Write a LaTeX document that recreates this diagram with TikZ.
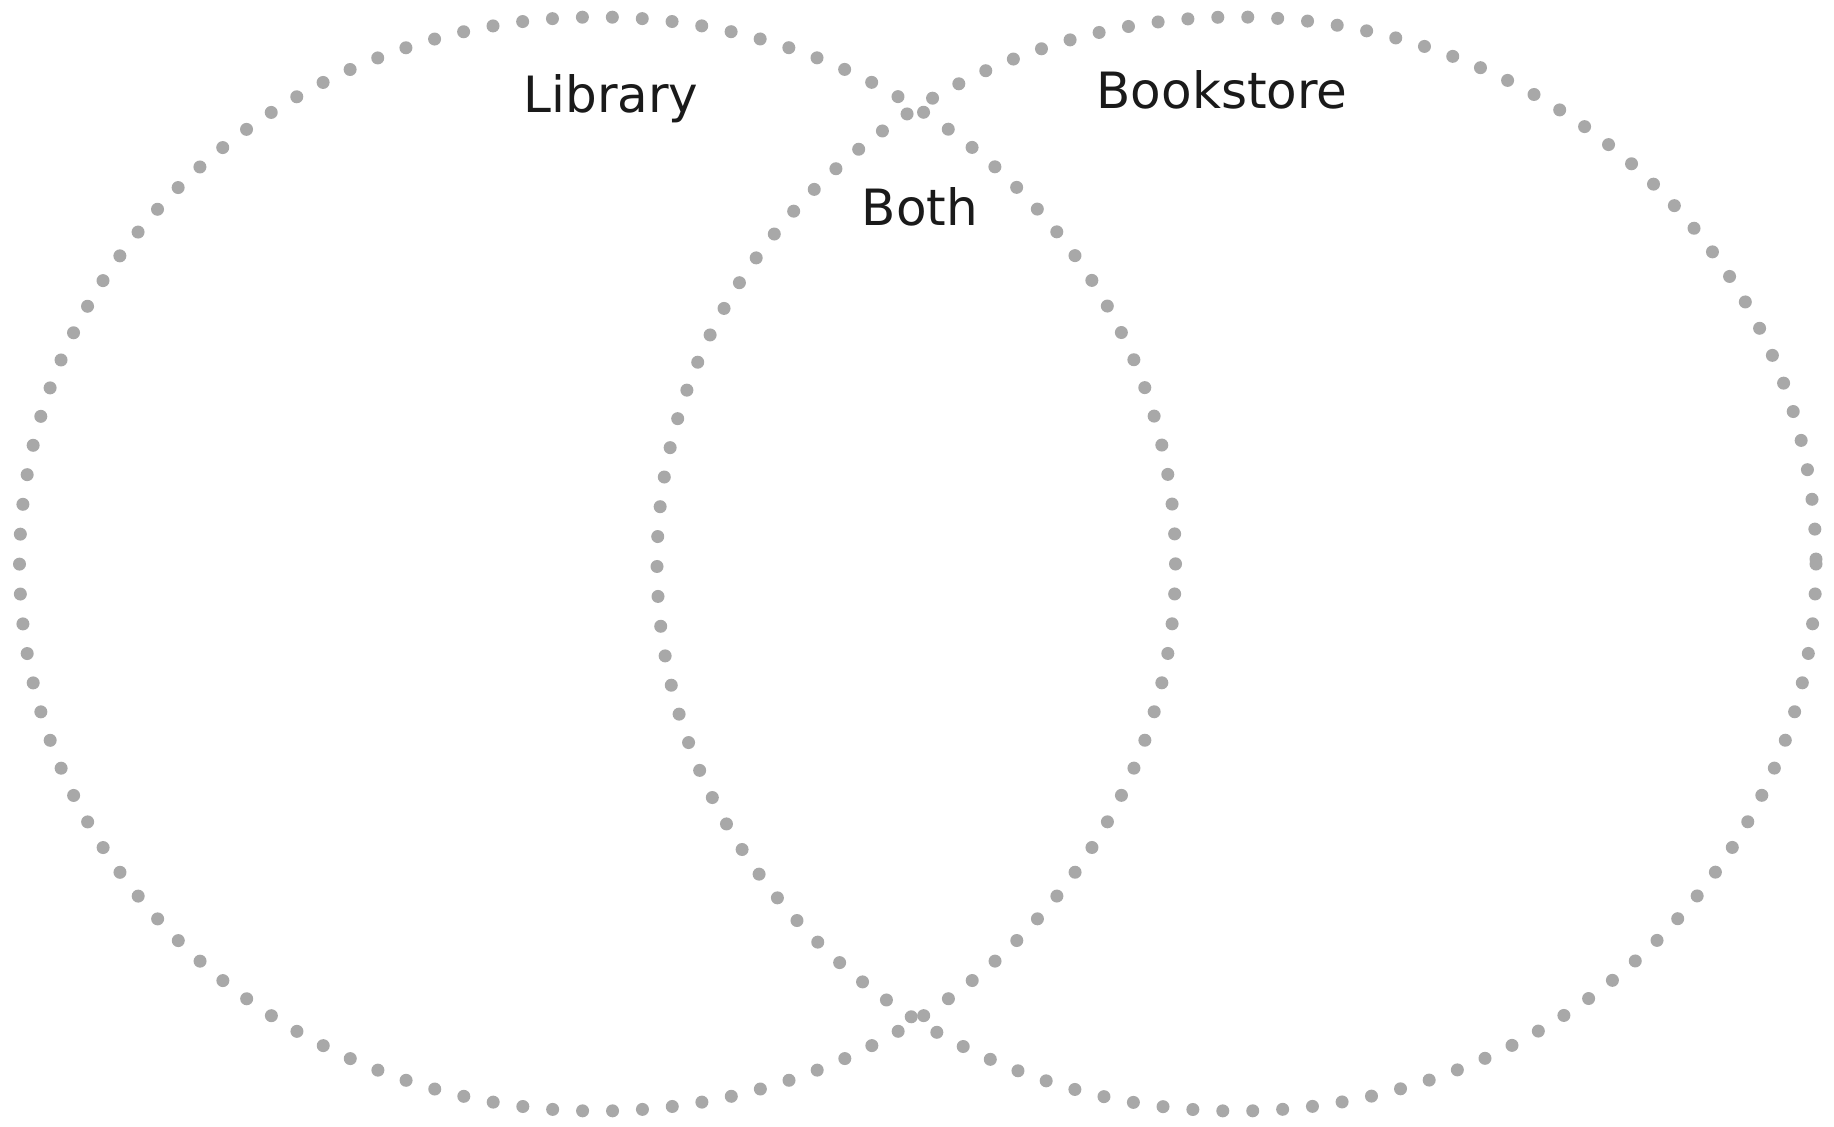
\documentclass[tikz,border=0pt]{standalone}
\usepackage{fontspec}
\setmainfont{DejaVu Sans}
\definecolor{dotgray}{RGB}{168,168,168}
\definecolor{ink}{RGB}{26,26,26}
\begin{document}
\begin{tikzpicture}[x=0.5pt,y=-0.5pt,
  venn/.style={draw=dotgray, line width=6.5pt, line cap=round, dash pattern=on 0pt off 14.98pt},
  lbl/.style={anchor=base, text=ink, font=\fontsize{25}{30}\selectfont, inner sep=0pt}]
\useasboundingbox[fill=white] (0,0) rectangle (1834,1126);
\draw[venn] (597.5,564) ellipse [x radius=578, y radius=547];
\draw[venn] (1236.5,564) ellipse [x radius=579.5, y radius=547];
\node[lbl] (lib) at (611,112) {Library};
\node[lbl] (book) at (1222,108) {Bookstore};
\node[lbl] (both) at (920,225) {Both};
\end{tikzpicture}
\end{document}
